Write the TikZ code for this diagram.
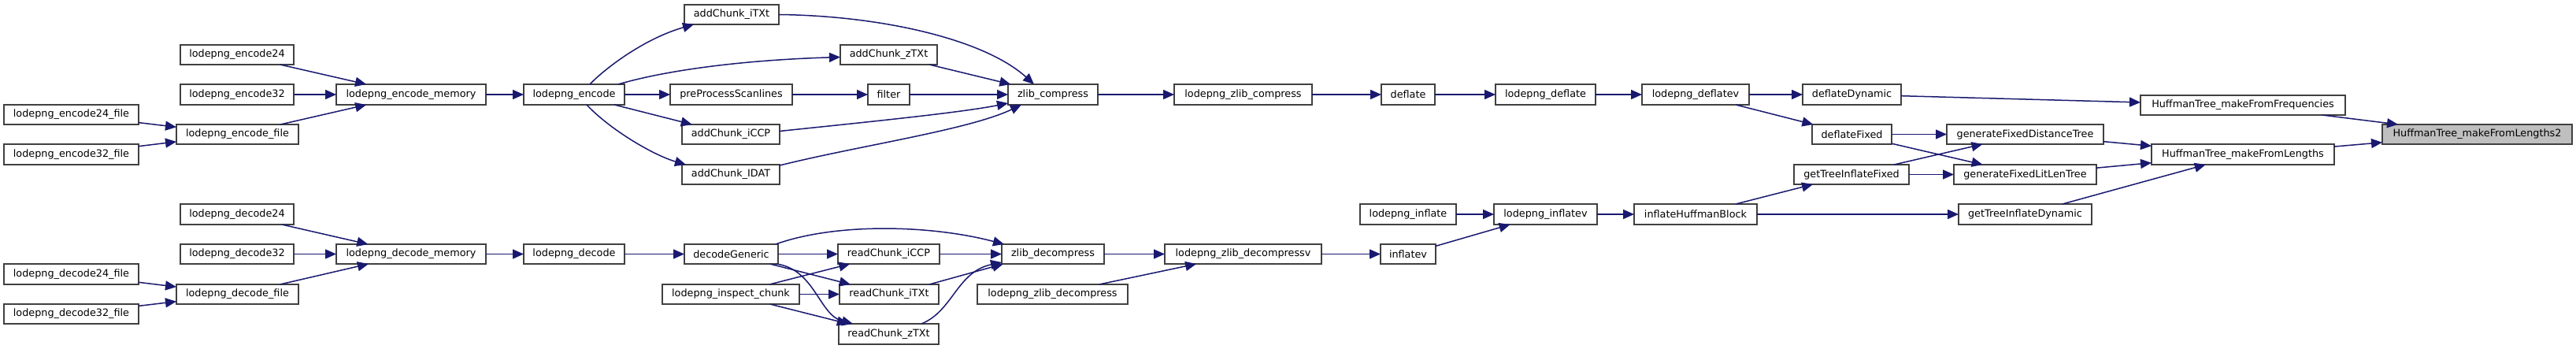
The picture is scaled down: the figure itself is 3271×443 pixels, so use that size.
\documentclass[tikz,border=0pt]{standalone}
\usepackage{fontspec}
\setmainfont{DejaVu Sans}
\usetikzlibrary{arrows.meta,calc}
\definecolor{edgec}{HTML}{191970}
\definecolor{boxc}{HTML}{404040}
\definecolor{targetc}{HTML}{BFBFBF}
\tikzset{
  fn/.style={draw=boxc, line width=0.9pt, fill=white, inner sep=0pt, outer sep=0pt,
    font=\fontsize{6.4pt}{7.7pt}\selectfont, text=black},
  target/.style={fn, fill=targetc},
  call/.style={draw=edgec, line width=0.75pt, -{Triangle[length=7pt,width=6pt]}, color=edgec}
}
\newcommand{\mkbox}[7]{\node[#1, minimum width={(#5-#3)*0.5pt}, minimum height={(#6-#4)*0.5pt}] (#2) at ({(#3+#5)/2},{(#4+#6)/2}) {#7};}
\begin{document}
\begin{tikzpicture}[x=0.5pt,y=-0.5pt]
\path[use as bounding box, fill=white] (0,0) rectangle (3271,443);
% encode side
\mkbox{fn}{e24}{229}{57}{373}{82}{lodepng\_encode24}
\mkbox{fn}{e32}{229}{107}{373}{133}{lodepng\_encode32}
\mkbox{fn}{e24f}{5}{133}{176}{158}{lodepng\_encode24\_file}
\mkbox{fn}{ef}{224}{158}{379}{183}{lodepng\_encode\_file}
\mkbox{fn}{e32f}{5}{183}{176}{209}{lodepng\_encode32\_file}
\mkbox{fn}{em}{427}{107}{617}{133}{lodepng\_encode\_memory}
\mkbox{fn}{enc}{665}{107}{793}{133}{lodepng\_encode}
\mkbox{fn}{itxt}{869}{6}{989}{31}{addChunk\_iTXt}
\mkbox{fn}{ztxt}{1067}{57}{1190}{82}{addChunk\_zTXt}
\mkbox{fn}{pps}{851}{107}{1006}{133}{preProcessScanlines}
\mkbox{fn}{filt}{1102}{107}{1155}{133}{filter}
\mkbox{fn}{iccp}{866}{158}{990}{183}{addChunk\_iCCP}
\mkbox{fn}{idat}{866}{209}{990}{234}{addChunk\_IDAT}
\mkbox{fn}{zc}{1280}{107}{1394}{133}{zlib\_compress}
\mkbox{fn}{lzc}{1491}{107}{1666}{133}{lodepng\_zlib\_compress}
\mkbox{fn}{defl}{1754}{107}{1822}{133}{deflate}
\mkbox{fn}{ldefl}{1899}{107}{2026}{133}{lodepng\_deflate}
\mkbox{fn}{ldeflv}{2085}{107}{2221}{133}{lodepng\_deflatev}
\mkbox{fn}{dd}{2289}{107}{2414}{133}{deflateDynamic}
\mkbox{fn}{df}{2301}{158}{2402}{183}{deflateFixed}
\mkbox{fn}{gtif}{2278}{209}{2424}{234}{getTreeInflateFixed}
\mkbox{fn}{freq}{2718}{121}{2978}{146}{HuffmanTree\_makeFromFrequencies}
\mkbox{fn}{gfdt}{2472}{158}{2671}{183}{generateFixedDistanceTree}
\mkbox{fn}{len}{2732}{183}{2964}{209}{HuffmanTree\_makeFromLengths}
\mkbox{fn}{gfll}{2481}{209}{2662}{234}{generateFixedLitLenTree}
\mkbox{fn}{gtid}{2487}{259}{2656}{285}{getTreeInflateDynamic}
\mkbox{target}{ltwo}{3025}{158}{3266}{183}{HuffmanTree\_makeFromLengths2}
% decode side
\mkbox{fn}{d24}{229}{259}{373}{285}{lodepng\_decode24}
\mkbox{fn}{d32}{229}{310}{373}{335}{lodepng\_decode32}
\mkbox{fn}{d24f}{5}{335}{176}{361}{lodepng\_decode24\_file}
\mkbox{fn}{dfile}{224}{361}{379}{386}{lodepng\_decode\_file}
\mkbox{fn}{d32f}{5}{386}{176}{411}{lodepng\_decode32\_file}
\mkbox{fn}{dm}{427}{310}{617}{335}{lodepng\_decode\_memory}
\mkbox{fn}{dec}{665}{310}{793}{335}{lodepng\_decode}
\mkbox{fn}{dg}{869}{310}{988}{335}{decodeGeneric}
\mkbox{fn}{rciccp}{1064}{310}{1193}{335}{readChunk\_iCCP}
\mkbox{fn}{zd}{1272}{310}{1402}{335}{zlib\_decompress}
\mkbox{fn}{lzdv}{1479}{310}{1678}{335}{lodepng\_zlib\_decompressv}
\mkbox{fn}{insp}{841}{361}{1015}{386}{lodepng\_inspect\_chunk}
\mkbox{fn}{rcitxt}{1066}{361}{1192}{386}{readChunk\_iTXt}
\mkbox{fn}{lzd}{1241}{361}{1432}{386}{lodepng\_zlib\_decompress}
\mkbox{fn}{rcztxt}{1065}{411}{1192}{437}{readChunk\_zTXt}
\mkbox{fn}{infv}{1753}{310}{1823}{335}{inflatev}
\mkbox{fn}{linf}{1727}{259}{1849}{285}{lodepng\_inflate}
\mkbox{fn}{linfv}{1897}{259}{2028}{285}{lodepng\_inflatev}
\mkbox{fn}{hb}{2075}{259}{2231}{285}{inflateHuffmanBlock}
% ---- edges: encode
\draw[call] (e24) -- (em);
\draw[call] (e32) -- (em);
\draw[call] (ef) -- (em);
\draw[call] (e24f) -- (ef);
\draw[call] (e32f) -- (ef);
\draw[call] (em) -- (enc);
\draw[call] ($(enc.north)+(20,0)$) .. controls (765,90) and (815,50) .. ($(itxt.south west)+(12,0)$);
\draw[call] ($(enc.north east)+(-8,0)$) .. controls (850,88) and (950,76) .. ($(ztxt.west)+(0,3)$);
\draw[call] (enc) -- (pps);
\draw[call] (enc) -- (iccp);
\draw[call] ($(enc.south)+(16,0)$) .. controls (775,165) and (830,197) .. ($(idat.north west)+(5,0)$);
\draw[call] (pps) -- (filt);
\draw[call] (filt) -- (zc);
\draw[call] (itxt.east) .. controls (1120,20) and (1250,50) .. ($(zc.north west)+(33,0)$);
\draw[call] (ztxt) -- (zc);
\draw[call] ($(iccp.east)+(0,-4)$) .. controls (1100,155) and (1220,143) .. ($(zc.south west)+(0,-2)$);
\draw[call] ($(idat.north east)+(0,1)$) .. controls (1090,185) and (1230,165) .. ($(zc.south west)+(17,0)$);
\draw[call] (zc) -- (lzc);
\draw[call] (lzc) -- (defl);
\draw[call] (defl) -- (ldefl);
\draw[call] (ldefl) -- (ldeflv);
\draw[call] (ldeflv) -- (dd);
\draw[call] (ldeflv) -- (df);
\draw[call] (dd) -- (freq);
\draw[call] (freq) -- (ltwo);
\draw[call] (len) -- (ltwo);
\draw[call] (df) -- (gfdt);
\draw[call] (df) -- (gfll);
\draw[call] (gtif) -- (gfdt);
\draw[call] (gtif) -- (gfll);
\draw[call] (gfdt) -- (len);
\draw[call] (gfll) -- (len);
\draw[call] (gtid) -- (len);
% ---- edges: decode
\draw[call] (d24) -- (dm);
\draw[call] (d32) -- (dm);
\draw[call] (dfile) -- (dm);
\draw[call] (d24f) -- (dfile);
\draw[call] (d32f) -- (dfile);
\draw[call] (dm) -- (dec);
\draw[call] (dec) -- (dg);
\draw[call] ($(dg.north east)+(-3,0)$) .. controls (1060,283) and (1180,285) .. ($(zd.north west)+(3,0)$);
\draw[call] (dg) -- (rciccp);
\draw[call] (dg) -- (rcitxt);
\draw[call] ($(dg.south east)+(-2,0)$) .. controls (1035,342) and (1040,400) .. ($(rcztxt.north west)+(18,0)$);
\draw[call] (rciccp) -- (zd);
\draw[call] ($(rcitxt.north east)+(-12,0)$) -- ($(zd.south west)+(2,0)$);
\draw[call] ($(rcztxt.north east)+(-22,0)$) .. controls (1210,395) and (1215,345) .. ($(zd.south west)+(0,-2)$);
\draw[call] (insp) -- (rciccp);
\draw[call] (insp) -- (rcitxt);
\draw[call] (insp) -- (rcztxt);
\draw[call] (zd) -- (lzdv);
\draw[call] (lzd) -- (lzdv);
\draw[call] (lzdv) -- (infv);
\draw[call] (infv) -- (linfv);
\draw[call] (linf) -- (linfv);
\draw[call] (linfv) -- (hb);
\draw[call] (hb) -- (gtif);
\draw[call] (hb) -- (gtid);
\end{tikzpicture}
\end{document}
